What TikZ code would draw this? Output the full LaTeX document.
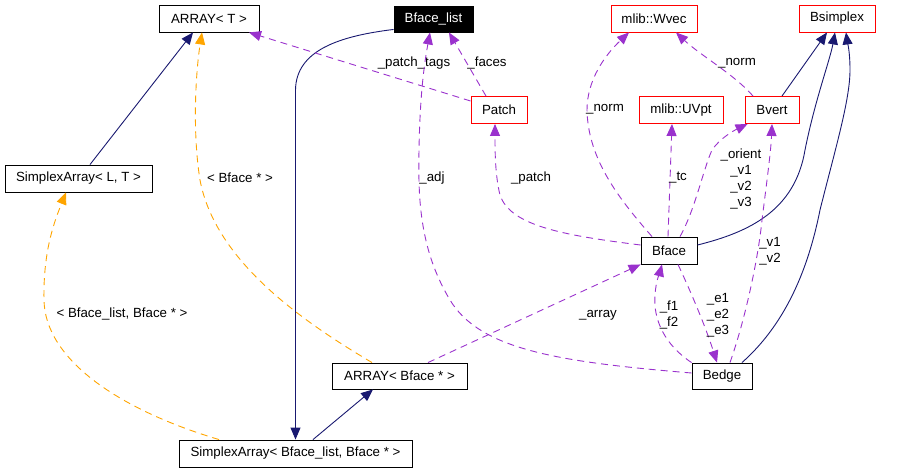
\documentclass[tikz,border=0pt]{standalone}
\usepackage{fontspec}
\setmainfont{Liberation Sans}
\usepackage{xcolor}
\usepackage{tikz}
\usetikzlibrary{arrows.meta,positioning,calc}
\definecolor{inhblue}{HTML}{191970}
\definecolor{usepurple}{HTML}{9A32CD}
\definecolor{tmplorange}{HTML}{FFA500}
\tikzset{
  cls/.style={draw=black,inner sep=0pt,minimum height=27pt,line width=0.9pt,font=\fontsize{13.3}{15}\selectfont},
  clsred/.style={cls,draw=red},
  clsmain/.style={cls,fill=black,text=white},
  inherit/.style={-{Triangle[length=12pt,width=10pt]},draw=inhblue,line width=0.9pt},
  member/.style={-{Triangle[length=12pt,width=10pt]},draw=usepurple,line width=0.9pt,dash pattern=on 7pt off 5pt},
  tmpl/.style={-{Triangle[length=12pt,width=10pt]},draw=tmplorange,line width=0.9pt,dash pattern=on 7pt off 5pt},
  lbl/.style={align=center,inner sep=0pt,font=\fontsize{13.3}{16}\selectfont}
}

\begin{document}
\begin{tikzpicture}[x=1pt,y=-1pt]
    \path[use as bounding box] (0,0) rectangle (905,472);
    % classes
    \node[cls,minimum width=100pt] (arrayT) at (209,18.5) {ARRAY< T >};
    \node[clsmain,minimum width=79pt,minimum height=26pt] (bfacelist) at (433.5,19) {Bface\_list};
    \node[clsred,minimum width=86pt] (wvec) at (654,18.5) {mlib::Wvec};
    \node[clsred,minimum width=76pt] (bsimplex) at (837,18.5) {Bsimplex};
    \node[clsred,minimum width=56pt] (patch) at (499,110) {Patch};
    \node[clsred,minimum width=84pt] (uvpt) at (681,110) {mlib::UVpt};
    \node[clsred,minimum width=54pt] (bvert) at (772,110) {Bvert};
    \node[cls,minimum width=147pt] (simplexLT) at (78.5,178.5) {SimplexArray< L, T >};
    \node[cls,minimum width=56pt] (bface) at (669,250.5) {Bface};
    \node[cls,minimum width=135pt,minimum height=26pt] (arrayBface) at (399.5,376) {ARRAY< Bface * >};
    \node[cls,minimum width=60pt,minimum height=26pt] (bedge) at (722,376) {Bedge};
    \node[cls,minimum width=233pt] (simplexBB) at (295.5,453.5) {SimplexArray< Bface\_list, Bface * >};

    % inheritance
    \draw[inherit] ([xshift=11.5pt]simplexLT.north) -- ([xshift=-16pt]arrayT.south);
    \draw[inherit] ([yshift=3pt]bfacelist.south west) .. controls (340,36) and (296,50) .. (295.5,90) -- (simplexBB.north);
    \draw[inherit] ([xshift=17.5pt]simplexBB.north) -- ([xshift=-26.5pt]arrayBface.south);
    \draw[inherit] ([yshift=5.5pt]bface.east) .. controls (750,232) and (795,210) .. (805,150) .. controls (815,100) and (830,60) .. ([xshift=-2pt]bsimplex.south);
    \draw[inherit] ([xshift=10pt]bvert.north) -- ([xshift=-10pt]bsimplex.south);
    \draw[inherit] ([xshift=20pt]bedge.north) .. controls (790,320) and (810,260) .. (820,210) .. controls (835,150) and (850,100) .. (850,70) .. controls (850,50) and (847,40) .. ([xshift=9pt]bsimplex.south);

    % template instances
    \draw[tmpl] ([xshift=-27.5pt]arrayBface.north) .. controls (300,320) and (215,260) .. (200,180) .. controls (192,130) and (196,70) .. ([xshift=-7pt]arrayT.south);
    \node[lbl] (lblBface) at (240,178) {< Bface * >};
    \draw[tmpl] ([xshift=-76.5pt]simplexBB.north) .. controls (120,410) and (45,360) .. (44,300) .. controls (43,250) and (55,220) .. ([xshift=-12.5pt]simplexLT.south);
    \node[lbl] (lblBB) at (122,314) {< Bface\_list, Bface * >};

    % members
    \draw[member] ([yshift=9pt]patch.west) -- ([xshift=40pt]arrayT.south);
    \node[lbl] (lblpatchtags) at (414,63) {\_patch\_tags};
    \draw[member] ([xshift=-13pt]patch.north) -- ([xshift=15.5pt]bfacelist.south);
    \node[lbl] (lblfaces) at (487,63) {\_faces};
    \draw[member] ([yshift=3pt]bedge.west) .. controls (560,362) and (480,350) .. (450,300) .. controls (420,250) and (418,200) .. (419,150) .. controls (420,90) and (425,60) .. ([xshift=-3.5pt]bfacelist.south);
    \node[lbl] (lbladj) at (432,178) {\_adj};
    \draw[member] ([yshift=5.5pt]bface.west) .. controls (560,235) and (510,225) .. (500,195) .. controls (495,175) and (495,150) .. ([xshift=-4pt]patch.south);
    \node[lbl] (lblpatch) at (531,178) {\_patch};
    \draw[member] ([xshift=-17pt]bface.north) .. controls (620,200) and (588,160) .. (587,110) .. controls (587,80) and (605,55) .. ([xshift=-25pt]wvec.south);
    \node[lbl] (lblnormA) at (605,109) {\_norm};
    \draw[member] ([xshift=-19pt]bvert.north) .. controls (735,75) and (700,55) .. ([xshift=22pt]wvec.south);
    \node[lbl] (lblnormB) at (737,63) {\_norm};
    \draw[member] ([xshift=-1pt]bface.north) -- ([xshift=-9pt]uvpt.south);
    \node[lbl] (lbltc) at (678,178) {\_tc};
    \draw[member] ([xshift=11pt]bface.north) .. controls (695,210) and (703,170) .. (712,150) .. controls (720,138) and (735,130) .. ([xshift=3pt]bvert.south west);
    \node[lbl] (lblorient) at (741,179) {\_orient\\\_v1\\\_v2\\\_v3};
    \draw[member] ([xshift=8pt]bedge.north) .. controls (745,320) and (758,260) .. (762,220) .. controls (767,180) and (771,150) .. (bvert.south);
    \node[lbl] (lblv) at (770,251) {\_v1\\\_v2};
    \draw[member] (bedge.north west) .. controls (665,345) and (653,320) .. (655,295) .. controls (656,280) and (660,272) .. ([xshift=-7pt]bface.south);
    \node[lbl] (lblf) at (669,315) {\_f1\\\_f2};
    \draw[member] ([xshift=9pt]bface.south) .. controls (690,290) and (705,325) .. ([xshift=-5pt]bedge.north);
    \node[lbl] (lble) at (718,315) {\_e1\\\_e2\\\_e3};
    \draw[member] ([xshift=28.5pt]arrayBface.north) -- (bface.south west);
    \node[lbl] (lblarray) at (598,315) {\_array};
\end{tikzpicture}
\end{document}
